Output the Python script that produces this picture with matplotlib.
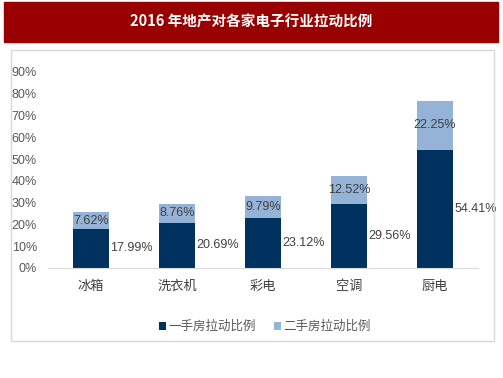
import matplotlib.pyplot as plt
from matplotlib.patches import Rectangle

plt.rcParams['font.family'] = ['Liberation Sans', 'Noto Sans CJK SC', 'DejaVu Sans']

# data
categories = ['冰箱', '洗衣机', '彩电', '空调', '厨电']
first_hand = [17.99, 20.69, 23.12, 29.56, 54.41]
second_hand = [7.62, 8.76, 9.79, 12.52, 22.25]
yticks = [0, 10, 20, 30, 40, 50, 60, 70, 80, 90]
title = '2016 年地产对各家电子行业拉动比例'

dark = '#00325F'
light = '#95B3D7'
txt = '#404040'

fig = plt.figure(figsize=(5.03, 3.78), dpi=100)
W, H = 503, 378

# red title banner
fig.patches.append(Rectangle((4 / W, 1 - 42 / H), 494 / W, 40 / H,
                             transform=fig.transFigure, color='#990000', zorder=0))
fig.text(0.5, 1 - 22 / H, title, color='white', fontsize=10.5, fontweight='bold',
         ha='center', va='center', family=['Noto Sans CJK SC'])

# light grey chart frame
fig.patches.append(Rectangle((11 / W, 1 - 341 / H), 483 / W, 291 / H,
                             transform=fig.transFigure, fill=False,
                             edgecolor='#D9D9D9', lw=1, zorder=0))

ax = fig.add_axes([48 / W, 110 / H, 430 / W, 196 / H])
x = range(len(categories))
w = 0.41
b1 = ax.bar(x, first_hand, w, color=dark, label='一手房拉动比例')
b2 = ax.bar(x, second_hand, w, bottom=first_hand, color=light, label='二手房拉动比例')

for i in x:
    ax.text(i + w / 2 + 0.02, first_hand[i] / 2, f'{first_hand[i]:.2f}%',
            ha='left', va='center', fontsize=9, color=txt)
    ax.text(i, first_hand[i] + second_hand[i] / 2, f'{second_hand[i]:.2f}%',
            ha='center', va='center', fontsize=9, color=txt)

ax.set_xlim(-0.5, 4.5)
ax.set_ylim(0, 90)
ax.set_yticks(yticks)
ax.set_yticklabels([f'{t}%' for t in yticks], fontsize=9, color='#595959')
ax.set_xticks(list(x))
ax.set_xticklabels(categories, fontsize=9.5, color=txt)
ax.tick_params(length=0, pad=9)
ax.tick_params(axis='y', pad=8)
for s in ['top', 'right', 'left']:
    ax.spines[s].set_visible(False)
ax.spines['bottom'].set_color('#D9D9D9')

fig.legend(handles=[b1, b2], loc='center', bbox_to_anchor=(265 / W, 1 - 327 / H),
           ncol=2, frameon=False, fontsize=9, labelcolor='#595959',
           handlelength=0.5, handleheight=0.6, handletextpad=0.2, columnspacing=1.5)

fig.savefig('out.png', dpi=100)
